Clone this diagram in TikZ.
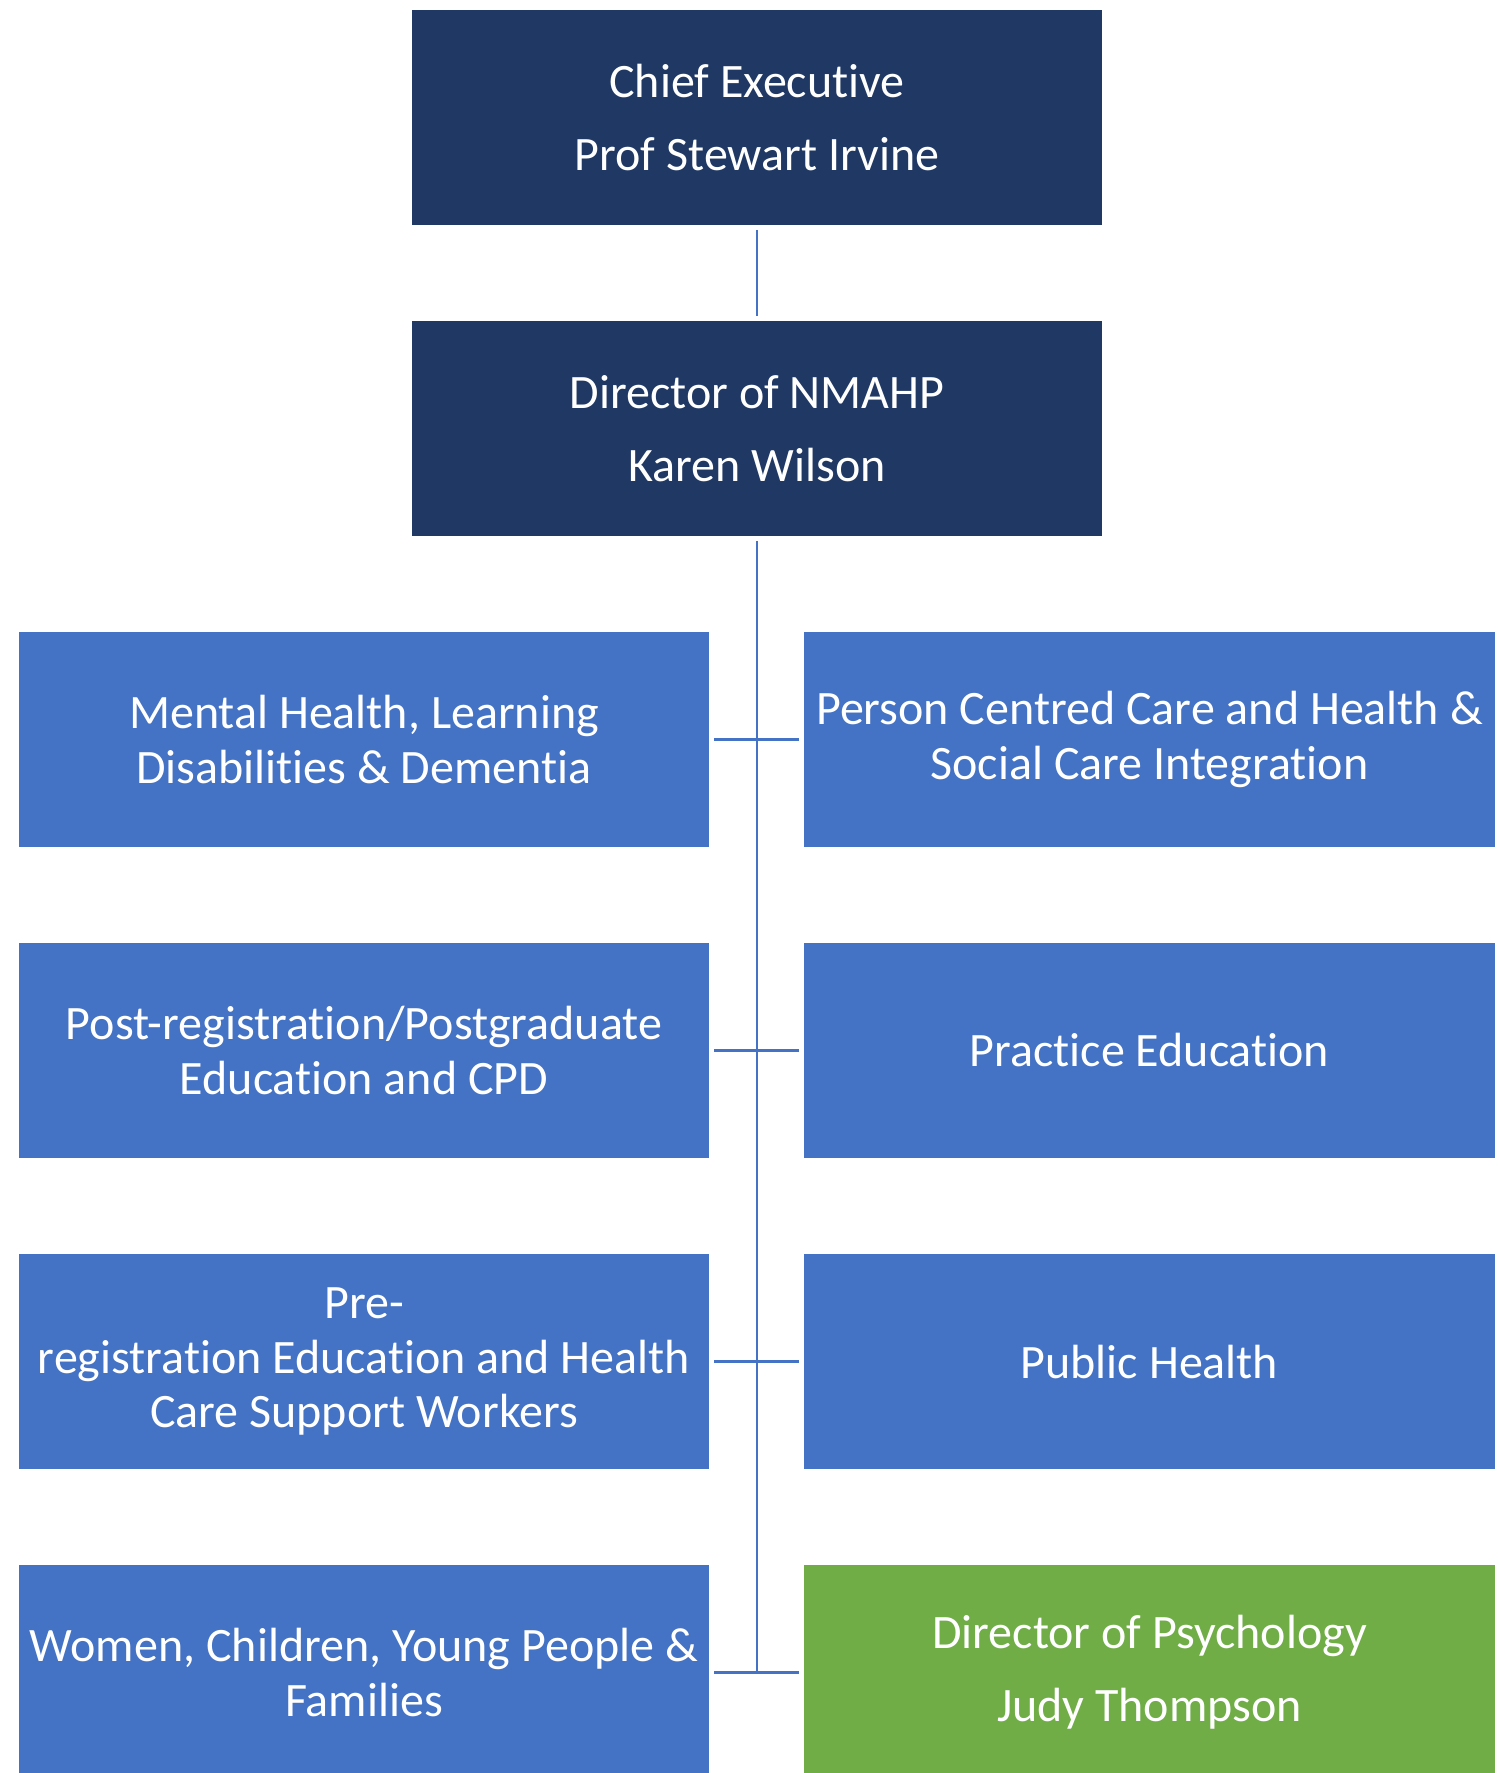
\documentclass[tikz,border=0pt]{standalone}
\usepackage{fontspec}
\setmainfont{Carlito}[Ligatures=NoCommon]
\usepackage{xcolor}
\usepackage{tikz}
\usetikzlibrary{positioning}
\definecolor{navy}{HTML}{203864}
\definecolor{midblue}{HTML}{4472C4}
\definecolor{leafgreen}{HTML}{70AD47}
\tikzset{
  orgbox/.style={rectangle,minimum width=6.9cm,minimum height=2.15cm,
    align=center,text=white,inner sep=0pt,font=\fontsize{13.65}{15.5}\selectfont},
  topbox/.style={orgbox,fill=navy},
  unitbox/.style={orgbox,fill=midblue},
  psybox/.style={orgbox,fill=leafgreen},
  link/.style={draw=midblue,line width=0.75pt,shorten <=1.2pt,shorten >=1.2pt}
}

\begin{document}
\begin{tikzpicture}[x=0.01cm,y=-0.01cm]
    \useasboundingbox (0,0) rectangle (1497,1773);
    \node[topbox] (ceo) at (757,117.5) {Chief Executive\\[5.2pt]Prof Stewart Irvine};
    \node[topbox] (nmahp) at (757,428.5) {Director of NMAHP\\[5.2pt]Karen Wilson};
    \node[unitbox] (mhld) at (364,739.5) {Mental Health, Learning\\Disabilities \& Dementia};
    \node[unitbox] (pcc) at (1149.5,739.5) {Person Centred Care and Health \&\\Social Care Integration};
    \node[unitbox] (pgcpd) at (364,1050.5) {Post-registration/Postgraduate\\Education and CPD};
    \node[unitbox] (pe) at (1149.5,1050.5) {Practice Education};
    \node[unitbox] (prehcsw) at (364,1361.5) {Pre-\\registration Education and Health\\Care Support Workers};
    \node[unitbox] (ph) at (1149.5,1361.5) {Public Health};
    \node[unitbox] (wcyp) at (364,1672.5) {Women, Children, Young People \&\\Families};
    \node[psybox] (psych) at (1149.5,1672.5) {Director of Psychology\\[5.2pt]Judy Thompson};
    \draw[link] (ceo) -- (nmahp);
    \draw[link,shorten >=0pt] (nmahp.south) -- (nmahp.south |- wcyp.east);
    \draw[link] (mhld) -- (pcc);
    \draw[link] (pgcpd) -- (pe);
    \draw[link] (prehcsw) -- (ph);
    \draw[link] (wcyp) -- (psych);
\end{tikzpicture}
\end{document}
